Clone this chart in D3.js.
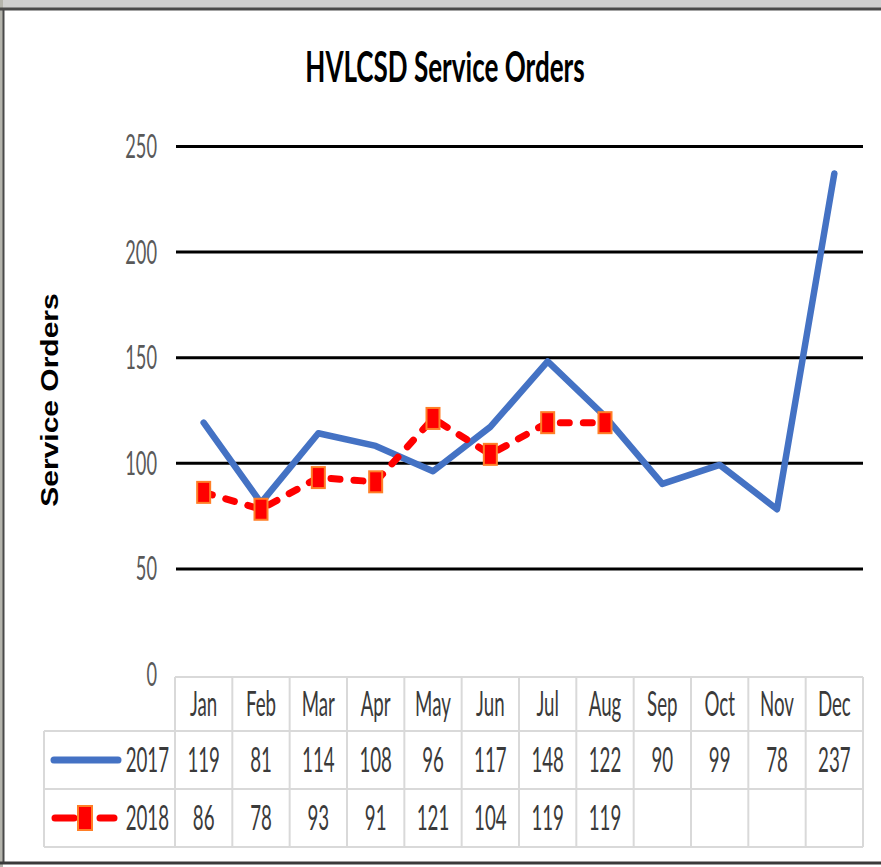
<!DOCTYPE html>
<html>
<head>
<meta charset="utf-8">
<script src="https://cdn.jsdelivr.net/npm/d3@7"></script>
<style>
  html, body { margin: 0; padding: 0; background: #fff; }
  svg { display: block; }
</style>
</head>
<body>
<script>
const months = ["Jan","Feb","Mar","Apr","May","Jun","Jul","Aug","Sep","Oct","Nov","Dec"];
const values2017 = [119,81,114,108,96,117,148,122,90,99,78,237];
const values2018 = [86,78,93,91,121,104,119,119];
const seriesNames = ["2017","2018"];
const yTicks = [0,50,100,150,200,250];
const gridTicks = [50,100,150,200,250];
const titleText = "HVLCSD Service Orders";
const yLabel = "Service Orders";

const W = 881, H = 867;
const SX = 0.55; // horizontal compression of the condensed text
const FONT = "Lato, 'Open Sans', sans-serif";

const svg = d3.select("body").append("svg").attr("width", W).attr("height", H);

// frame
svg.append("rect").attr("x",0).attr("y",0).attr("width",W).attr("height",H).attr("fill","#fff");
svg.append("rect").attr("x",0).attr("y",0).attr("width",W).attr("height",8).attr("fill","#cfcfcf");
svg.append("rect").attr("x",0).attr("y",0).attr("width",3).attr("height",H).attr("fill","#b4b4ac");
svg.append("line").attr("x1",0).attr("x2",W).attr("y1",9).attr("y2",9).attr("stroke","#4a4a4a").attr("stroke-width",3);
svg.append("line").attr("x1",3.5).attr("x2",3.5).attr("y1",8).attr("y2",864).attr("stroke","#4a4a4a").attr("stroke-width",2);
svg.append("line").attr("x1",0).attr("x2",W).attr("y1",863).attr("y2",863).attr("stroke","#3a3a3a").attr("stroke-width",3);

// scales
const x = d3.scaleBand().domain(months).range([175, 863]).padding(0);
const bw = x.bandwidth();
const cx = m => x(m) + bw / 2;
const y = d3.scaleLinear().domain([0, 250]).range([674, 146]);

// title
svg.append("text")
  .attr("transform", `translate(445,82) scale(0.62,1)`)
  .attr("text-anchor","middle")
  .attr("font-family", FONT).attr("font-weight", 700).attr("font-size", 42)
  .attr("fill","#000")
  .text(titleText);

// y axis label
svg.append("text")
  .attr("transform", "translate(50,400) rotate(-90) scale(1,0.78)")
  .attr("text-anchor","middle")
  .attr("dy","0.36em")
  .attr("font-family","'Liberation Sans', Arial, sans-serif").attr("font-weight",700).attr("font-size",30)
  .attr("fill","#000")
  .text(yLabel);

// gridlines
const grid = svg.append("g").attr("transform","translate(176,0)")
  .call(d3.axisLeft(y).tickValues(gridTicks).tickSize(-(863-176)).tickFormat(""));
grid.select(".domain").remove();
grid.selectAll(".tick line").attr("stroke","#000").attr("stroke-width",3);

// tick labels
const yax = svg.append("g").attr("transform","translate(157,0)")
  .call(d3.axisLeft(y).tickValues(yTicks).tickSize(0).tickPadding(0));
yax.select(".domain").remove();
yax.selectAll(".tick text")
  .attr("x",0).attr("dy","0.36em")
  .attr("transform",`scale(${SX+0.02},1)`)
  .attr("font-family",FONT).attr("font-size",32).attr("fill","#595959");

// table
const tableColor = "#d9d9d9";
const rowTop = 677, row1 = 731, row2 = 789, rowBot = 847;
const legLeft = 44;
const tbl = svg.append("g");
[[175,rowTop],[legLeft,row1],[legLeft,row2],[legLeft,rowBot]].forEach(([x0,yy]) => {
  tbl.append("line").attr("x1",x0).attr("x2",x.range()[1]).attr("y1",yy).attr("y2",yy)
    .attr("stroke",tableColor).attr("stroke-width",2);
});
tbl.append("line").attr("x1",legLeft).attr("x2",legLeft).attr("y1",row1).attr("y2",rowBot)
  .attr("stroke",tableColor).attr("stroke-width",2);
tbl.selectAll("line.col").data(months.concat(["end"])).join("line").attr("class","col")
  .attr("x1",(d,i)=> x.range()[0] + i*bw).attr("x2",(d,i)=> x.range()[0] + i*bw)
  .attr("y1",rowTop).attr("y2",rowBot)
  .attr("stroke",tableColor).attr("stroke-width",2);

function cellText(g, xx, yy, txt, anchor) {
  g.append("text")
    .attr("transform",`translate(${xx},${yy}) scale(${SX},1)`)
    .attr("text-anchor", anchor || "middle")
    .attr("dy","0.36em")
    .attr("font-family",FONT).attr("font-size",34).attr("fill","#3a3a3a")
    .text(txt);
}
months.forEach(m => cellText(tbl, cx(m), (rowTop+row1)/2, m));
values2017.forEach((v,i) => cellText(tbl, cx(months[i]), (row1+row2)/2, v));
values2018.forEach((v,i) => cellText(tbl, cx(months[i]), (row2+rowBot)/2, v));

// legend keys
const blue = "#4472c4", red = "#ff0000", orange = "#ff7f27";
tbl.append("line").attr("x1",54).attr("x2",118).attr("y1",(row1+row2)/2).attr("y2",(row1+row2)/2)
  .attr("stroke",blue).attr("stroke-width",7).attr("stroke-linecap","round");
cellText(tbl, 169, (row1+row2)/2, seriesNames[0], "end");
tbl.append("line").attr("x1",55).attr("x2",114).attr("y1",(row2+rowBot)/2).attr("y2",(row2+rowBot)/2)
  .attr("stroke",red).attr("stroke-width",7).attr("stroke-linecap","round").attr("stroke-dasharray","19,26");
tbl.append("rect").attr("x",85-7).attr("y",(row2+rowBot)/2-12).attr("width",14).attr("height",24)
  .attr("fill",red).attr("stroke",orange).attr("stroke-width",2);
cellText(tbl, 169, (row2+rowBot)/2, seriesNames[1], "end");

// lines
const line = d3.line().x((d,i) => cx(months[i])).y(d => y(d));
svg.append("path").datum(values2017).attr("d", line)
  .attr("fill","none").attr("stroke",blue).attr("stroke-width",6.5)
  .attr("stroke-linejoin","round").attr("stroke-linecap","round");
svg.append("path").datum(values2018).attr("d", line)
  .attr("fill","none").attr("stroke",red).attr("stroke-width",7)
  .attr("stroke-linejoin","round").attr("stroke-linecap","round").attr("stroke-dasharray","9,14");
svg.selectAll("rect.mk").data(values2018).join("rect").attr("class","mk")
  .attr("x",(d,i)=> cx(months[i]) - 6.5).attr("y", d => y(d) - 10.5)
  .attr("width",13).attr("height",21)
  .attr("fill",red).attr("stroke",orange).attr("stroke-width",2);
</script>
</body>
</html>
